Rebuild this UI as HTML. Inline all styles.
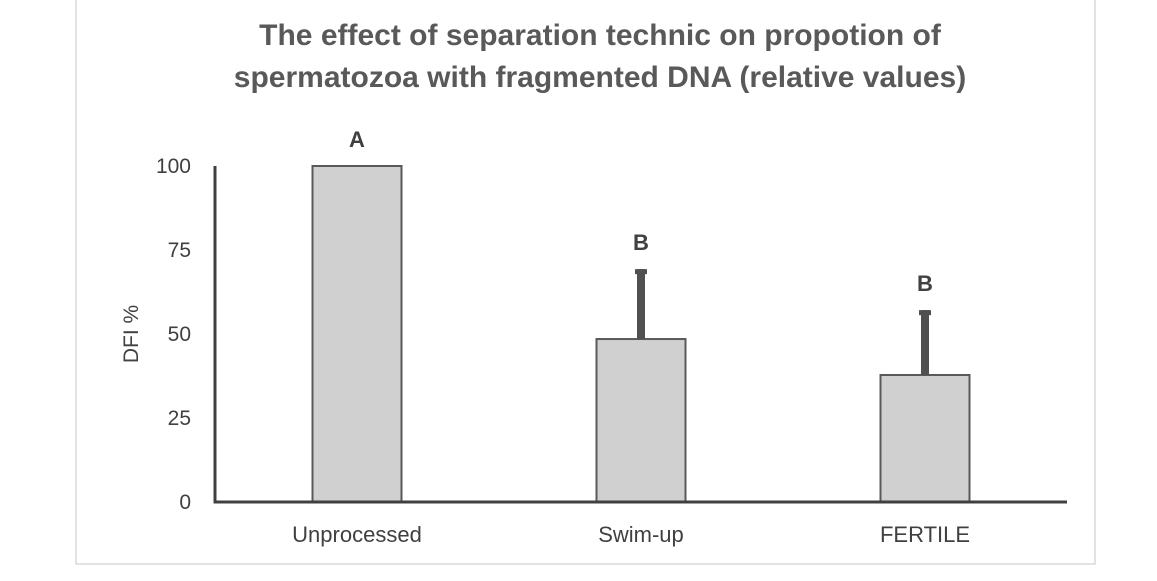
<!DOCTYPE html>
<html><head><meta charset="utf-8"><style>
body{margin:0;background:#fff;width:1157px;height:581px;overflow:hidden}
svg{display:block;font-family:"Liberation Sans","DejaVu Sans",sans-serif}
</style></head><body>
<svg id="c" width="1157" height="581">
<rect x="76" y="-2" width="1019" height="566" fill="#fff" stroke="#d9d9d9" stroke-width="1.5"/>
<text x="600" y="45" text-anchor="middle" font-size="30" font-weight="bold" fill="#595959">The effect of separation technic on propotion of</text>
<text x="600" y="87" text-anchor="middle" font-size="30" font-weight="bold" fill="#595959">spermatozoa with fragmented DNA (relative values)</text>
<text transform="translate(138,334) rotate(-90)" text-anchor="middle" font-size="21" fill="#404040">DFI %</text>
<g id="g"></g>
</svg>
<script>
const categories=["Unprocessed","Swim-up","FERTILE"];
const values=[100,48.5,37.8];
const errors=[0,20.8,19.3];
const letters=["A","B","B"];
const ticks=[0,25,50,75,100];
const NS="http://www.w3.org/2000/svg";
const g=document.getElementById('g');
const x0=215,x1=1067,y0=502,yTop=166;
const y=v=>y0-(v/100)*(y0-yTop);
const band=(x1-x0)/categories.length;
const xc=i=>x0+band*(i+0.5);
const bw=89;
function mk(t,a){const e=document.createElementNS(NS,t);for(const k in a)e.setAttribute(k,a[k]);g.appendChild(e);return e;}
ticks.forEach(t=>{
 const e=mk('text',{x:191,y:y(t)+7,'text-anchor':'end','font-size':21,fill:'#404040'});
 e.textContent=t;
 
 
});
categories.forEach((c,i)=>{
 const r=mk('rect',{x:xc(i)-bw/2,y:y(values[i]),width:bw,height:y0-y(values[i]),fill:'#d0d0d0',stroke:'#595959','stroke-width':2});
 
 
 if(errors[i]>0){
  const top=y(values[i]+errors[i]);
  const l=mk('line',{x1:xc(i),x2:xc(i),y1:y(values[i]),y2:top,stroke:'#505050','stroke-width':8});
  
  
  const cp=mk('rect',{x:xc(i)-6,y:top,width:12,height:5,fill:'#505050'});
  
  
 }
 const lt=mk('text',{x:xc(i),y:y(values[i]+errors[i])-19,'text-anchor':'middle','font-size':22,'font-weight':'bold',fill:'#404040'});
 lt.textContent=letters[i];
 
 
 const xl=mk('text',{x:xc(i),y:542,'text-anchor':'middle','font-size':22,fill:'#404040'});
 xl.textContent=c;
 
 
});
const ya=mk('polyline',{points:`${x0},${yTop} ${x0},${y0} ${x1},${y0}`,fill:'none',stroke:'#404040','stroke-width':3});


</script>
</body></html>
